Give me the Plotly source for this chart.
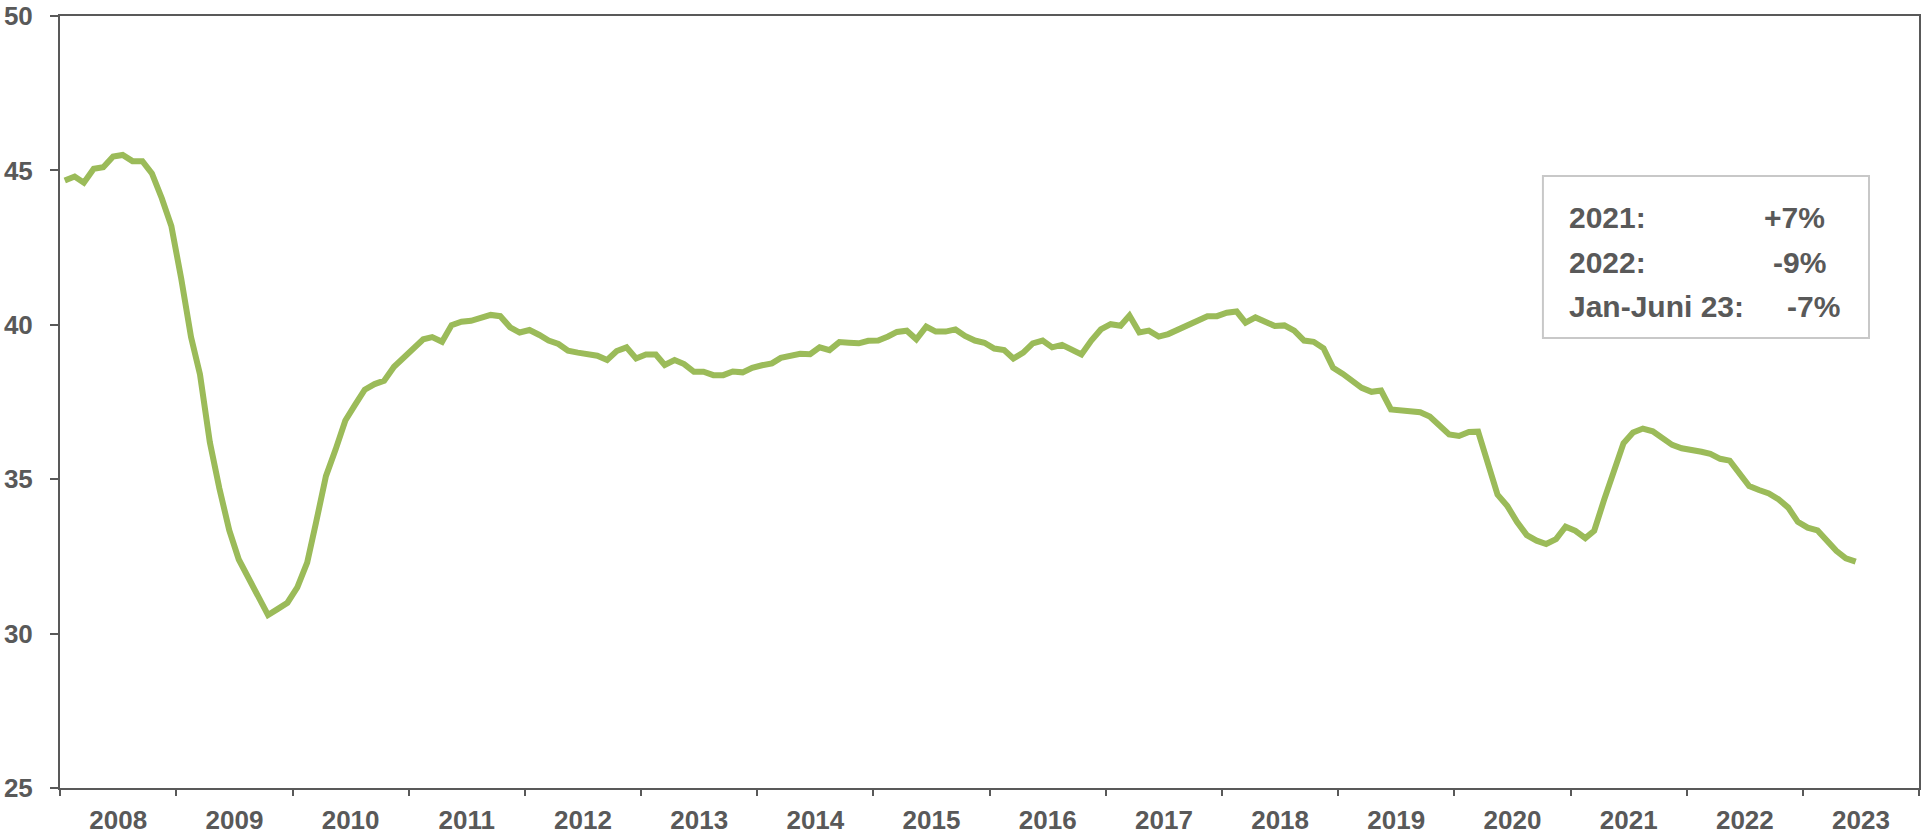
import pandas as pd
import plotly.graph_objects as go

# Monthly values, Jan..Dec of each year (2023: Jan..Jun)
y2008 = [44.67, 44.8, 44.6, 45.05, 45.1, 45.45, 45.5, 45.3, 45.3, 44.9, 44.1, 43.2]
y2009 = [41.5, 39.6, 38.4, 36.2, 34.7, 33.35, 32.4, 31.8, 31.2, 30.6, 30.8, 31.0]
y2010 = [31.5, 32.3, 33.6, 35.1, 35.95, 36.9, 37.4, 37.9, 38.08, 38.19, 38.64, 38.91]
y2011 = [39.24, 39.53, 39.6, 39.45, 39.99, 40.1, 40.13, 40.21, 40.32, 40.28, 39.92, 39.75]
y2012 = [39.83, 39.67, 39.49, 39.38, 39.16, 39.1, 39.05, 39.0, 38.86, 39.15, 39.27, 38.91]
y2013 = [39.04, 39.04, 38.7, 38.86, 38.73, 38.48, 38.48, 38.37, 38.37, 38.49, 38.46, 38.61]
y2014 = [38.69, 38.75, 38.93, 39.01, 39.06, 39.05, 39.27, 39.18, 39.44, 39.42, 39.4, 39.48]
y2015 = [39.49, 39.62, 39.77, 39.81, 39.53, 39.94, 39.78, 39.78, 39.85, 39.64, 39.49, 39.42]
y2016 = [39.23, 39.18, 38.91, 39.1, 39.4, 39.49, 39.27, 39.35, 39.2, 39.04, 39.49, 39.85]
y2017 = [40.02, 39.97, 40.3, 39.75, 39.81, 39.62, 39.7, 39.85, 39.97, 40.12, 40.28, 40.28]
y2018 = [40.39, 40.43, 40.07, 40.24, 40.08, 39.96, 39.98, 39.81, 39.49, 39.45, 39.24, 38.61]
y2019 = [38.41, 38.18, 37.96, 37.83, 37.87, 37.26, 37.24, 37.2, 37.17, 37.03, 36.7, 36.45]
y2020 = [36.4, 36.53, 36.54, 35.52, 34.5, 34.13, 33.62, 33.19, 33.01, 32.9, 33.06, 33.46]
y2021 = [33.33, 33.09, 33.33, 34.33, 35.19, 36.16, 36.51, 36.64, 36.55, 36.36, 36.11, 36.0]
y2022 = [35.92, 35.89, 35.82, 35.66, 35.6, 35.21, 34.78, 34.65, 34.54, 34.35, 34.08, 33.62]
y2023 = [33.43, 33.34, 33.03, 32.68, 32.44, 32.33]

box_labels = ["2021:", "2022:", "Jan-Juni 23:"]
box_values = ["+7%", "-9%", "-7%"]

years = [y2008, y2009, y2010, y2011, y2012, y2013, y2014, y2015,
         y2016, y2017, y2018, y2019, y2020, y2021, y2022, y2023]
values = [v for yr in years for v in yr]
months = pd.date_range("2008-01-01", periods=len(values), freq="MS") + pd.Timedelta(days=15)

FONT = "Liberation Sans, Arial, sans-serif"
GRAY = "#595959"

fig = go.Figure()
fig.add_trace(go.Scatter(
    x=months, y=values, mode="lines",
    line=dict(color="#9BBB59", width=6),
    hoverinfo="x+y", showlegend=False,
))

fig.update_layout(
    width=1921, height=836,
    margin=dict(l=60, r=2, t=16, b=48),
    paper_bgcolor="white", plot_bgcolor="white",
    font=dict(family=FONT, color=GRAY),
)
fig.update_xaxes(
    type="date", automargin=False,
    range=["2008-01-01", "2024-01-01"],
    tick0="2008-01-01", dtick="M12",
    tickformat="%Y", ticklabelmode="period",
    ticks="outside", ticklen=6, tickwidth=2, tickcolor=GRAY,
    showline=True, linecolor=GRAY, linewidth=2, mirror=True,
    showgrid=False, zeroline=False,
    tickfont=dict(family=FONT, size=26, color=GRAY, weight="bold"),
    ticklabelstandoff=2, ticklabeloverflow="allow",
)
fig.update_yaxes(
    automargin=False,
    range=[25, 50], dtick=5, tick0=25,
    ticks="outside", ticklen=8, tickwidth=2, tickcolor=GRAY,
    showline=True, linecolor=GRAY, linewidth=2, mirror=True,
    showgrid=False, zeroline=False,
    tickfont=dict(family=FONT, size=26, color=GRAY, weight="bold"),
    ticklabelstandoff=12, ticklabeloverflow="allow",
)

# Info box
fig.add_shape(type="rect", xref="paper", yref="paper",
              x0=0.7977, x1=0.9731, y0=0.5829, y1=0.7927,
              line=dict(color="#C8C8C8", width=2), fillcolor="white", layer="above")
ys = [0.7396, 0.6813, 0.6231]
vx = [0.9505, 0.9510, 0.9586]
for lab, val, yy, xx in zip(box_labels, box_values, ys, vx):
    fig.add_annotation(xref="paper", yref="paper", x=0.8107, y=yy, text=lab,
                       showarrow=False, xanchor="left", yanchor="middle",
                       font=dict(family=FONT, size=30, color=GRAY, weight="bold"))
    fig.add_annotation(xref="paper", yref="paper", x=xx, y=yy, text=val,
                       showarrow=False, xanchor="right", yanchor="middle",
                       font=dict(family=FONT, size=30, color=GRAY, weight="bold"))

fig.write_html("out.html", config={"displayModeBar": False},
               post_script="document.body.style.margin='0';document.body.style.overflow='hidden';")
